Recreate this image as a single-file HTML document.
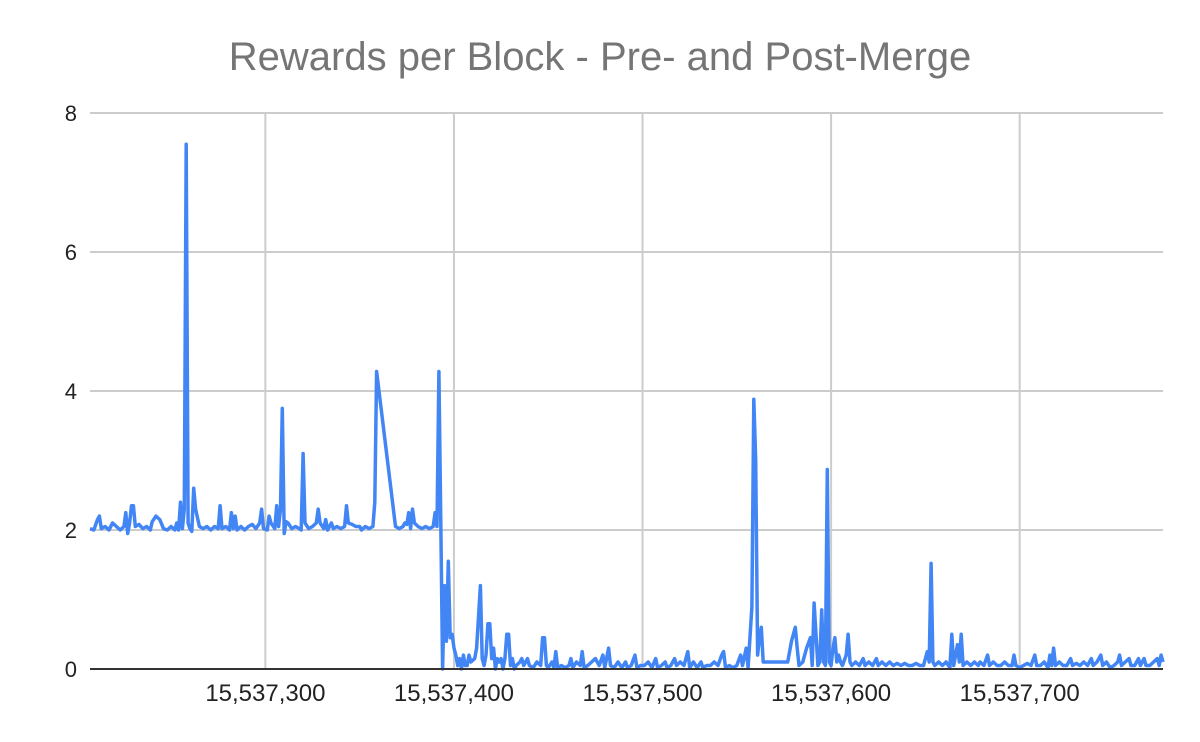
<!DOCTYPE html>
<html><head><meta charset="utf-8"><style>
body{margin:0;background:#fff;}
svg{display:block;font-family:"Liberation Sans",Arial,sans-serif;}
</style></head><body>
<svg id="chart" width="1200" height="742" viewBox="0 0 1200 742">
<rect width="1200" height="742" fill="#fff"/>
<text x="600" y="70" text-anchor="middle" font-size="40" fill="#757575">Rewards per Block - Pre- and Post-Merge</text>
<g id="grid"></g><g id="series"></g><g id="axes"></g>
</svg>
<script>
const blockBase = 15537200;
const blockOffsets = [7,9,11,12,13,15,17,19,21,23,25,26,27,28,29,30,31,33,35,37,39,40,42,44,46,48,50,52,53,54,55,56,57,58,59,60,61,62,63,65,67,69,71,73,75,76,77,79,81,82,83,84,85,87,89,91,93,95,97,98,99,101,102,103,105,106,107,108,109,110,111,112,114,116,118,119,120,121,123,125,127,128,129,131,132,133,135,136,138,140,142,143,144,146,148,150,151,153,155,157,158,159,169,171,173,174,175,176,177,178,179,181,183,185,187,189,190,191,192,193,194,195,196,197,198,199,200,201,202,203,204,205,206,207,208,209,211,212,214,215,216,217,218,219,220,221,222,223,224,225,226,227,228,229,230,231,232,233,235,236,237,239,240,242,244,246,247,248,249,250,252,253,254,255,257,259,261,262,263,265,267,268,269,271,273,275,277,279,280,282,283,285,287,289,291,292,294,296,297,299,301,303,305,307,308,310,312,313,315,317,318,320,322,324,325,327,329,331,332,334,336,338,340,342,343,344,346,348,350,352,353,355,356,358,359,360,361,362,363,364,365,377,379,381,382,383,385,387,389,390,391,392,393,394,395,396,397,398,399,400,401,402,403,404,405,406,408,409,410,411,413,415,417,418,420,422,424,425,427,429,431,433,435,437,439,441,443,445,447,449,451,452,453,454,455,457,459,461,463,464,465,467,468,469,470,472,474,476,478,479,481,483,484,486,488,490,492,494,496,497,498,500,502,504,506,508,509,511,513,515,516,517,518,519,521,523,525,527,528,530,532,534,536,538,539,541,543,544,546,548,550,552,553,554,556,558,559,561,563,564,566,567,569,571,573,574,575,576];
const rewardValues = [2.02,2.0,2.15,2.2,2.02,2.05,2.0,2.1,2.05,2.0,2.05,2.25,1.95,2.1,2.35,2.35,2.05,2.08,2.02,2.05,2.0,2.12,2.2,2.15,2.02,2.0,2.05,2.0,2.1,2.0,2.4,2.02,2.3,7.55,2.1,2.02,1.98,2.6,2.3,2.05,2.02,2.05,2.0,2.05,2.02,2.35,2.02,2.05,2.0,2.25,2.02,2.2,2.0,2.05,2.0,2.05,2.08,2.02,2.1,2.3,2.02,2.0,2.2,2.1,2.02,2.35,2.05,2.3,3.75,1.95,2.12,2.1,2.02,2.05,2.02,2.0,3.1,2.1,2.02,2.05,2.1,2.3,2.1,2.02,2.15,2.0,2.1,2.02,2.05,2.02,2.05,2.35,2.1,2.08,2.05,2.05,2.0,2.05,2.02,2.05,2.4,4.28,2.05,2.02,2.05,2.1,2.08,2.25,2.02,2.3,2.1,2.05,2.02,2.05,2.02,2.05,2.25,2.05,4.28,2.1,0,1.2,0.4,1.55,0.45,0.5,0.3,0.2,0.05,0.15,0,0.2,0.05,0.05,0.2,0.1,0.15,0.3,1.2,0.15,0.05,0.2,0.65,0.65,0.15,0.3,0,0.15,0.1,0.15,0,0.15,0.5,0.5,0.05,0.15,0,0.05,0.1,0.15,0.05,0.15,0.05,0.02,0.1,0.05,0.45,0.45,0.05,0.02,0.1,0.02,0.25,0.02,0.05,0.02,0.05,0.15,0.02,0.1,0.05,0.25,0.02,0.05,0.1,0.15,0.05,0.2,0.02,0.3,0.05,0.02,0.1,0.02,0.1,0.02,0.05,0.2,0.02,0.05,0.05,0.1,0.02,0.15,0.02,0.05,0.1,0.02,0.05,0.15,0.05,0.1,0.05,0.25,0.02,0.1,0.02,0.1,0.02,0.05,0.05,0.1,0.05,0.2,0.25,0.02,0.05,0.02,0.05,0.2,0.05,0.3,0.02,0.9,3.88,3.0,0.2,0.45,0.6,0.1,0.1,0.1,0.4,0.6,0.3,0.05,0.1,0.3,0.45,0.05,0.95,0.5,0.05,0.1,0.85,0.1,0.05,2.87,0.1,0.05,0.3,0.45,0.1,0.2,0.1,0.05,0.2,0.5,0.1,0.05,0.1,0.05,0.15,0.05,0.1,0.05,0.15,0.05,0.1,0.05,0.1,0.05,0.08,0.05,0.08,0.05,0.05,0.08,0.05,0.05,0.25,0.1,1.52,0.1,0.05,0.1,0.05,0.1,0.02,0.5,0.05,0.35,0.1,0.5,0.05,0.1,0.05,0.1,0.05,0.1,0.05,0.2,0.05,0.1,0.05,0.05,0.1,0.05,0.05,0.2,0.05,0.02,0.05,0.08,0.05,0.2,0.05,0.05,0.1,0.02,0.2,0.05,0.3,0.05,0.1,0.05,0.05,0.15,0.05,0.08,0.05,0.1,0.05,0.15,0.05,0.1,0.2,0.05,0.1,0.02,0.05,0.1,0.2,0.05,0.1,0.15,0.05,0.05,0.15,0.05,0.15,0.05,0.05,0.1,0.15,0.05,0.2,0.1];
const yTicks = [0,2,4,6,8];
const xTicks = [15537300,15537400,15537500,15537600,15537700];

const L=90,R=1163,T=113,B=669;
const xMin=15537207,xMax=15537776,yMax=8;
const xs=v=>L+(v-xMin)/(xMax-xMin)*(R-L);
const ys=v=>B-v/yMax*(B-T);
const NS="http://www.w3.org/2000/svg";
const mk=(t,a,p)=>{const e=document.createElementNS(NS,t);for(const k in a)e.setAttribute(k,a[k]);p.appendChild(e);return e;};
const grid=document.getElementById('grid'),axes=document.getElementById('axes'),series=document.getElementById('series');
yTicks.forEach(t=>{
  if(t>0){const g=mk('line',{x1:L,x2:R,y1:ys(t),y2:ys(t),stroke:'#cccccc','stroke-width':2},grid);
  
  }
  const tx=mk('text',{x:77,y:ys(t)+8,'text-anchor':'end','font-size':22,fill:'#222'},axes);
  
  
  tx.textContent=t;
});
xTicks.forEach(t=>{
  const g=mk('line',{x1:xs(t),x2:xs(t),y1:T,y2:B,stroke:'#cccccc','stroke-width':2},grid);
  
  
  const tx=mk('text',{x:xs(t),y:701,'text-anchor':'middle','font-size':24,fill:'#222'},axes);
  
  
  tx.textContent=t.toLocaleString('en-US');
});
const base=mk('line',{x1:L,x2:R,y1:B,y2:B,stroke:'#333','stroke-width':2},axes);


const pts=blockOffsets.map((o,i)=>xs(blockBase+o).toFixed(1)+','+ys(rewardValues[i]).toFixed(1)).join(' ');
const line=mk('polyline',{points:pts,fill:'none',stroke:'#4285f4','stroke-width':3.5,'stroke-linejoin':'round'},series);


</script>
</body></html>
